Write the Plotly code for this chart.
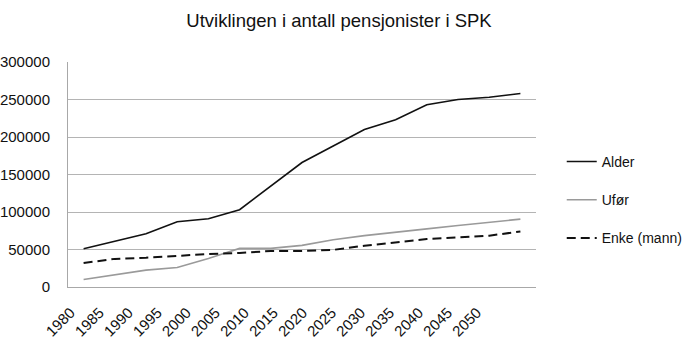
import plotly.graph_objects as go

years = [str(y) for y in range(1980, 2051, 5)]
alder = [51000, 61000, 71000, 87000, 91000, 103000, 135000, 166000, 188000,
         210000, 223000, 243000, 250000, 253000, 258000]
ufor = [10000, 16000, 22500, 26000, 38000, 51500, 51500, 55500, 63000,
        68500, 73500, 77500, 82000, 86000, 90500]
enke = [32000, 37500, 39000, 42000, 44000, 45500, 48000, 48000, 49500,
        55000, 59500, 64000, 66000, 68500, 74000]
y_ticks = [0, 50000, 100000, 150000, 200000, 250000, 300000]

font_family = "Liberation Sans, Arial, sans-serif"

fig = go.Figure()
fig.add_trace(go.Scatter(x=years, y=alder, name="Alder", mode="lines",
                         line=dict(color="#111111", width=1.6),
                         legendgroup="a"))
fig.add_trace(go.Scatter(x=years, y=ufor, name="Ufør", mode="lines",
                         line=dict(color="#9a9a9a", width=1.6),
                         legendgroup="b"))
fig.add_trace(go.Scatter(x=years, y=enke, name="Enke (mann)", mode="lines",
                         line=dict(color="#111111", width=2, dash="9px,5px"),
                         legendgroup="c"))

# The year labels sit on their own overlaid axis with a slightly tighter
# pitch than the data categories, as in the spreadsheet original.
# An empty trace keeps that axis alive.
fig.add_trace(go.Scatter(x=list(range(len(years))), y=[None] * len(years),
                         xaxis="x2", yaxis="y", mode="lines",
                         showlegend=False, hoverinfo="skip"))
label_axis_range = [-0.5, -0.5 + 474 / 29.4]

fig.update_layout(
    width=700, height=348,
    margin=dict(l=68, r=158, t=62, b=61),
    paper_bgcolor="white", plot_bgcolor="white",
    font=dict(family=font_family, size=15, color="#111111"),
    title=dict(text="Utviklingen i antall pensjonister i SPK",
               x=339 / 700, xanchor="center", xref="container",
               y=1 - 21 / 348, yanchor="middle", yref="container",
               font=dict(size=18.5, color="#111111")),
    showlegend=True,
    legend=dict(x=1.055, xanchor="left", y=0.387, yanchor="middle",
                tracegroupgap=17, font=dict(size=14),
                bgcolor="rgba(0,0,0,0)"),
    xaxis=dict(type="category", showgrid=False, showticklabels=False,
               showline=True, linecolor="#a8a8a8", linewidth=1,
               ticks="", automargin=False,
               range=[-0.5, len(years) - 0.5]),
    xaxis2=dict(overlaying="x", side="bottom", anchor="y",
                range=label_axis_range,
                tickmode="array",
                tickvals=list(range(len(years))), ticktext=years,
                tickangle=-45, tickfont=dict(size=15),
                ticklabelstandoff=13, ticklabelshift=-12,
                showgrid=False, showline=False,
                zeroline=False, ticks="", automargin=False),
    yaxis=dict(range=[0, 300000], tickvals=y_ticks,
               ticktext=[str(v) for v in y_ticks],
               showgrid=True, gridcolor="#b4b4b4", gridwidth=1,
               showline=True, linecolor="#a8a8a8", linewidth=1,
               zeroline=False, ticks="", ticklabelstandoff=14,
               automargin=False, tickfont=dict(size=15)),
)

fig.write_html("out.html")
